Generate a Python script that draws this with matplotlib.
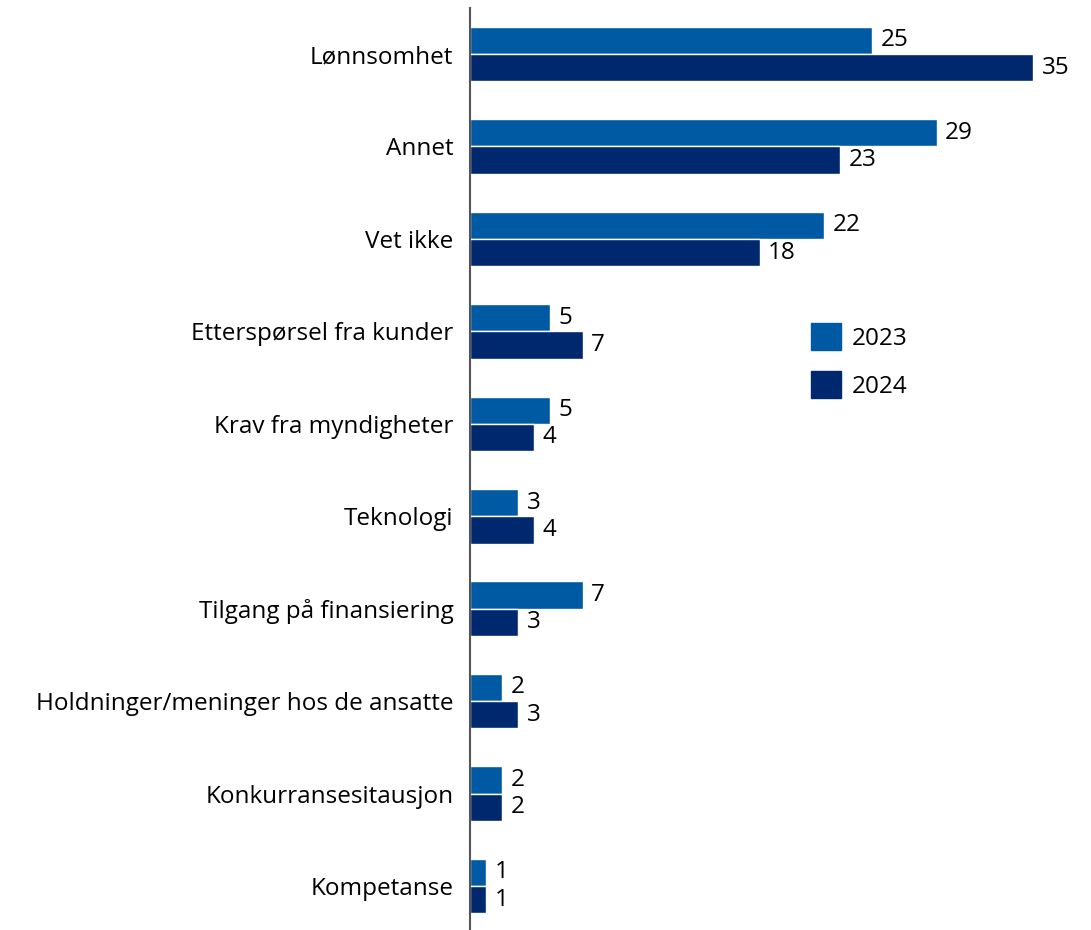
import matplotlib as mpl
import matplotlib.pyplot as plt
import numpy as np
from matplotlib.patches import Patch

mpl.use("Agg")

# data
categories = [
    "Lønnsomhet",
    "Annet",
    "Vet ikke",
    "Etterspørsel fra kunder",
    "Krav fra myndigheter",
    "Teknologi",
    "Tilgang på finansiering",
    "Holdninger/meninger hos de ansatte",
    "Konkurransesitausjon",
    "Kompetanse",
]
values_2023 = [25, 29, 22, 5, 5, 3, 7, 2, 2, 1]
values_2024 = [35, 23, 18, 7, 4, 4, 3, 3, 2, 1]
series_names = ["2023", "2024"]

col_2023 = "#005AA3"
col_2024 = "#00286F"
fs = 17.5
fs_px = fs * 100 / 72

plt.rcParams["font.family"] = ["Open Sans", "DejaVu Sans"]

W, H = 1091, 930
fig = plt.figure(figsize=(W / 100, H / 100), dpi=100)
ax = fig.add_axes([470 / W, 0, (W - 470) / W, (H - 8) / H])

y = np.arange(len(categories))
bh = 0.295
bars1 = ax.barh(y - bh / 2, values_2023, height=bh, color=col_2023,
                edgecolor="white", linewidth=1)
bars2 = ax.barh(y + bh / 2, values_2024, height=bh, color=col_2024,
                edgecolor="white", linewidth=1)

for bars in (bars1, bars2):
    ax.bar_label(bars, padding=6, fontsize=fs, color="black")

ax.set_xlim(0, (W - 470) / 16.09)
ax.set_ylim(9.476, -0.498)
ax.set_yticks(y)
ax.set_yticklabels(categories, fontsize=fs)
ax.tick_params(axis="y", length=0, pad=12)
ax.set_xticks([])

for s in ("top", "right", "bottom"):
    ax.spines[s].set_visible(False)
ax.spines["left"].set_color("#555555")
ax.spines["left"].set_linewidth(1.5)

handles = [Patch(color=col_2023), Patch(color=col_2024)]
fig.legend(handles, series_names, loc="upper left",
           bbox_to_anchor=(811 / W, 1 - 323 / H), frameon=False,
           fontsize=fs, handlelength=30 / fs_px, handleheight=33 / fs_px,
           handletextpad=11 / fs_px, labelspacing=20 / fs_px, borderpad=0,
           borderaxespad=0)

fig.savefig("out.png", dpi=100)
